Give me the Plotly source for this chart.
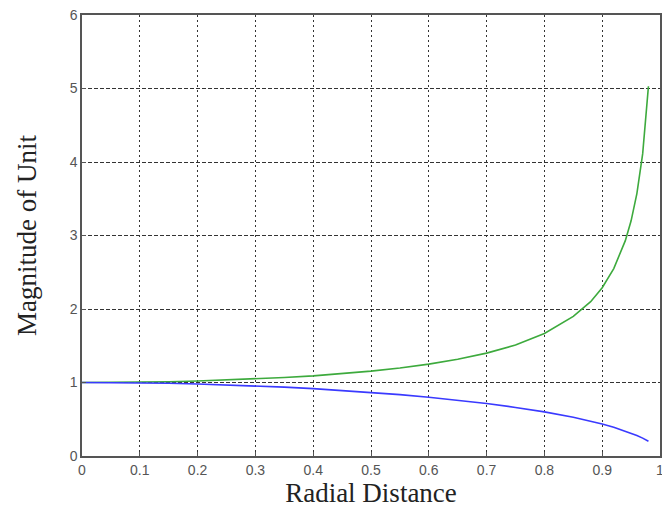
import plotly.graph_objects as go

x_vals = [0.0, 0.05, 0.1, 0.15, 0.2, 0.25, 0.3, 0.35, 0.4, 0.45, 0.5, 0.55, 0.6, 0.65, 0.7,
          0.75, 0.8, 0.85, 0.88, 0.9, 0.92, 0.94, 0.95, 0.96, 0.97, 0.98]
green_vals = [1.0, 1.001, 1.005, 1.011, 1.02, 1.033, 1.048, 1.068, 1.09, 1.12, 1.155, 1.197,
              1.25, 1.316, 1.40, 1.51, 1.667, 1.90, 2.10, 2.29, 2.55, 2.93, 3.2, 3.57, 4.11, 5.03]
blue_vals = [1.0, 0.999, 0.995, 0.989, 0.98, 0.968, 0.954, 0.937, 0.917, 0.893, 0.866, 0.835,
             0.80, 0.76, 0.714, 0.661, 0.60, 0.527, 0.475, 0.436, 0.392, 0.341, 0.312, 0.28,
             0.243, 0.20]

x_ticks = [0, 0.1, 0.2, 0.3, 0.4, 0.5, 0.6, 0.7, 0.8, 0.9, 1]
x_tick_text = ["0", "0.1", "0.2", "0.3", "0.4", "0.5", "0.6", "0.7", "0.8", "0.9", "1"]
y_ticks = [0, 1, 2, 3, 4, 5, 6]

fig = go.Figure()
fig.add_trace(go.Scatter(x=x_vals, y=green_vals, mode="lines",
                         line=dict(color="#3daa3d", width=1.6), showlegend=False))
fig.add_trace(go.Scatter(x=x_vals, y=blue_vals, mode="lines",
                         line=dict(color="#3a3aff", width=1.6), showlegend=False))

axis_common = dict(
    showline=True, mirror=True, linecolor="#555555", linewidth=1.5,
    showgrid=True, gridcolor="#333333", gridwidth=1,
    ticks="inside", ticklen=4, tickcolor="#555555",
    tickfont=dict(family="Liberation Sans, Arial, sans-serif", size=14, color="#555555"),
    ticklabeloverflow="allow",
    zeroline=False,
)

title_font = dict(family="Liberation Serif, Times New Roman, serif", size=27, color="#222222")

fig.update_xaxes(range=[0, 1], tickvals=x_ticks, ticktext=x_tick_text, griddash="2px,3px",
                 title=dict(text="Radial Distance", font=title_font, standoff=6),
                 **axis_common)
fig.update_yaxes(range=[0, 6], tickvals=y_ticks, griddash="4px,2px",
                 title=dict(text="Magnitude of Unit", font=title_font, standoff=25),
                 **axis_common)

fig.update_layout(
    width=662, height=503,
    margin=dict(l=74, r=10, t=7, b=55, autoexpand=False),
    paper_bgcolor="white", plot_bgcolor="white",
)

fig.write_html("out.html")
